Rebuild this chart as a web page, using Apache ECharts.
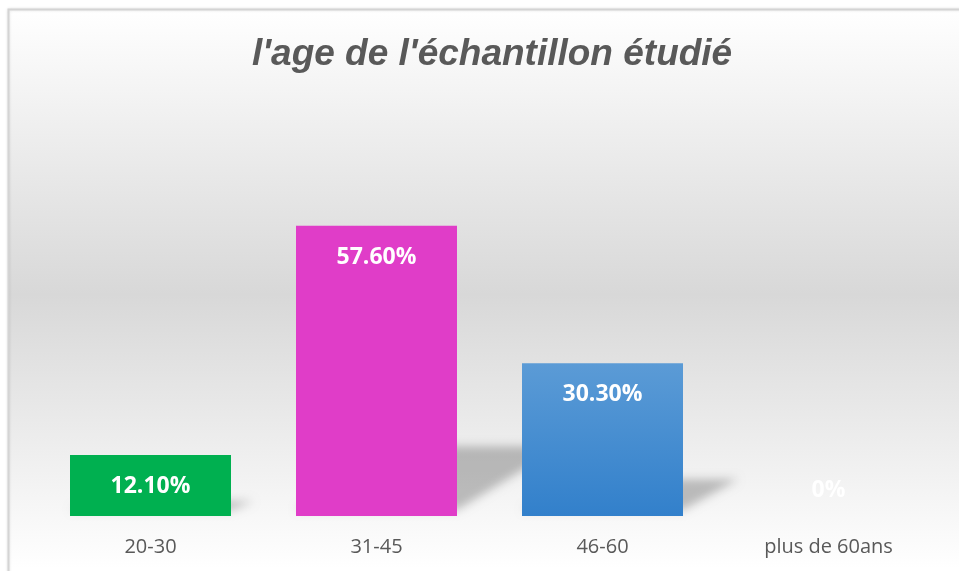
<!DOCTYPE html>
<html>
<head>
<meta charset="utf-8">
<script src="https://cdn.jsdelivr.net/npm/echarts@6/dist/echarts.min.js"></script>
<style>
  html, body { margin: 0; padding: 0; background: #fff; }
  #main { width: 959px; height: 571px; }
</style>
</head>
<body>
<div id="main"></div>
<script>
// données du graphique
var categories = ['20-30', '31-45', '46-60', 'plus de 60ans'];
var values = [12.1, 57.6, 30.3, 0];
var barColors = ['#00b050', '#e03dc8', 'blue-gradient', '#5b9bd5'];

var blueGradient = new echarts.graphic.LinearGradient(0, 0, 0, 1, [
  { offset: 0, color: '#5b9bd6' },
  { offset: 1, color: '#3280cb' }
]);

var myChart = echarts.init(document.getElementById('main'));

var barData = values.map(function (v, i) {
  var item = {
    value: v,
    itemStyle: { color: barColors[i] === 'blue-gradient' ? blueGradient : barColors[i] }
  };
  if (v === 0) {
    // Excel met l'étiquette au dessus quand la barre est vide
    item.label = { position: 'top', distance: 14, color: 'rgba(255,255,255,0.95)' };
  }
  return item;
});

var option = {
  backgroundColor: '#ffffff',
  animation: false,
  graphic: [
    {
      type: 'rect',
      z: -10,
      silent: true,
      shape: { x: 8.5, y: 9.5, width: 1000, height: 620 },
      style: {
        fill: new echarts.graphic.LinearGradient(0, 0, 0, 1, [
          { offset: 0, color: '#ffffff' },
          { offset: 0.46, color: '#d8d8d8' },
          { offset: 0.9, color: '#ffffff' },
          { offset: 1, color: '#ffffff' }
        ]),
        stroke: '#d4d4d4',
        lineWidth: 2,
        shadowColor: 'rgba(0,0,0,0.12)',
        shadowBlur: 3
      }
    }
  ],
  title: {
    text: "l'age de l'échantillon étudié",
    left: 247,
    top: 31,
    textStyle: {
      fontFamily: 'Liberation Sans',
      fontStyle: 'italic',
      fontWeight: 'bold',
      fontSize: 37,
      color: '#595959'
    }
  },
  grid: { left: 37.5, right: 17.5, top: 113, bottom: 55 },
  xAxis: {
    type: 'category',
    data: categories,
    axisLine: { show: false },
    axisTick: { show: false },
    axisLabel: {
      margin: 21,
      fontFamily: 'Open Sans',
      fontSize: 20,
      color: '#595959'
    }
  },
  yAxis: {
    type: 'value',
    min: 0,
    max: 80,
    show: false,
    splitLine: { show: false }
  },
  series: [
    {
      // ombre portée façon Excel : on ne garde que l'ombre floue du polygone
      type: 'custom',
      clip: false,
      silent: true,
      z: 1,
      data: values.map(function (v, i) { return [i, v]; }),
      renderItem: function (params, api) {
        var base = api.coord([api.value(0), 0]);
        var top = api.coord([api.value(0), api.value(1)]);
        var half = 80.5;
        var yb = base[1];
        var h = yb - top[1];
        if (h <= 0) return null;
        var dx = 0.36 * h, dy = 0.24 * h;
        var x0 = base[0] - half, x1 = base[0] + half;
        var far = 3000;
        return {
          type: 'polygon',
          shape: {
            points: [
              [x0 - far, yb - 6], [x1 - far, yb - 6],
              [x1 + dx - far, yb - dy], [x0 + dx - far, yb - dy]
            ]
          },
          style: {
            fill: '#000',
            shadowColor: 'rgba(0,0,0,0.24)',
            shadowBlur: 10,
            shadowOffsetX: far,
            shadowOffsetY: 0
          }
        };
      }
    },
    {
      type: 'bar',
      z: 2,
      data: barData,
      barWidth: 161,
      label: {
        show: true,
        position: 'insideTop',
        distance: 20,
        formatter: function (p) {
          return p.value === 0 ? '0%' : p.value.toFixed(2) + '%';
        },
        fontFamily: 'Open Sans',
        fontWeight: 'bold',
        fontSize: 23,
        color: '#ffffff'
      }
    }
  ]
};

myChart.setOption(option);
</script>
</body>
</html>
